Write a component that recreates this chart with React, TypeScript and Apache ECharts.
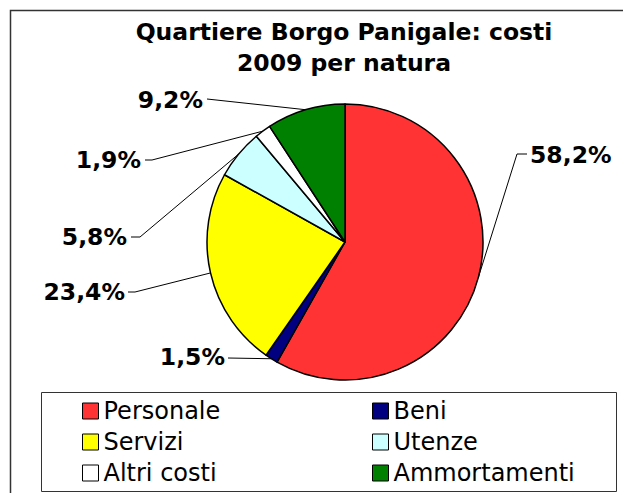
import React, { useEffect, useRef } from "react";
import * as echarts from "echarts";

const TITLE = "Quartiere Borgo Panigale: costi\n2009 per natura";
const categories = ["Personale", "Beni", "Servizi", "Utenze", "Altri costi", "Ammortamenti"];
const values = [58.2, 1.5, 23.4, 5.8, 1.9, 9.2];
const colors = ["#FF3333", "#000080", "#FFFF00", "#CCFFFF", "#FFFFFF", "#008000"];
const legendLeftColumn = ["Personale", "Servizi", "Altri costi"];
const legendRightColumn = ["Beni", "Utenze", "Ammortamenti"];

// Layout of the outside labels: label anchor and leader-line bends (layout only)
const labelPlacement: { x: number; y: number; align: string; bends: number[][] }[] = [
  { x: 530, y: 155, align: "left", bends: [[517, 154], [527, 154]] },
  { x: 225, y: 357, align: "right", bends: [[228, 358]] },
  { x: 125, y: 292, align: "right", bends: [[135, 292], [128, 292]] },
  { x: 127, y: 237, align: "right", bends: [[140, 237], [131, 237]] },
  { x: 141, y: 160, align: "right", bends: [[152, 160], [145, 160]] },
  { x: 203, y: 100, align: "right", bends: [[207, 99]] },
];

const FONT = "'DejaVu Sans', Verdana, sans-serif";

export default function App() {
  const ref = useRef<HTMLDivElement>(null);
  useEffect(() => {
    document.body.style.margin = "0";
    if (!ref.current) return;
    const chart = echarts.init(ref.current, null, { renderer: "svg" });
    const cx = 345, cy = 242, r = 138;
    const legendCommon = {
      orient: "vertical",
      top: 399,
      padding: 0,
      itemWidth: 16,
      itemHeight: 16,
      itemGap: 7,
      icon: "rect",
      selectedMode: false,
      itemStyle: { borderColor: "#000", borderWidth: 1 },
      textStyle: { fontFamily: FONT, fontSize: 24, color: "#000", lineHeight: 24 },
    };
    chart.setOption({
      animation: false,
      backgroundColor: "#fff",
      title: {
        text: TITLE,
        left: 344,
        top: 16,
        padding: 0,
        textAlign: "center",
        textStyle: {
          fontFamily: FONT,
          fontSize: 23.5,
          fontWeight: "bold",
          color: "#000",
          lineHeight: 31,
        },
      },
      legend: [
        { ...legendCommon, left: 82, data: legendLeftColumn },
        { ...legendCommon, left: 372, data: legendRightColumn },
      ],
      graphic: [
        {
          type: "rect",
          shape: { x: 10.5, y: 10.5, width: 700, height: 600 },
          style: { fill: "none", stroke: "#333", lineWidth: 1.5 },
          silent: true,
        },
        {
          type: "rect",
          shape: { x: 41.5, y: 392.5, width: 575, height: 99 },
          style: { fill: "none", stroke: "#333", lineWidth: 1 },
          silent: true,
        },
      ],
      series: [
        {
          type: "pie",
          center: [cx, cy],
          radius: r,
          startAngle: 90,
          clockwise: true,
          avoidLabelOverlap: false,
          data: categories.map((name, i) => ({
            name,
            value: values[i],
            itemStyle: { color: colors[i] },
          })),
          itemStyle: { borderColor: "#000", borderWidth: 1.5 },
          label: {
            show: true,
            position: "outside",
            formatter: (p: any) => `${Number(p.value).toFixed(1).replace(".", ",")}%`,
            fontFamily: FONT,
            fontSize: 23.5,
            fontWeight: "bold",
            color: "#000",
          },
          labelLine: {
            show: true,
            length: 20,
            length2: 10,
            lineStyle: { color: "#000", width: 1 },
          },
          labelLayout: (params: any) => {
            const pl = labelPlacement[params.dataIndex];
            if (!pl) return {};
            const start =
              params.labelLinePoints && params.labelLinePoints[0]
                ? params.labelLinePoints[0]
                : [cx, cy];
            return {
              x: pl.x,
              y: pl.y,
              align: pl.align,
              verticalAlign: "middle",
              labelLinePoints: [start, ...pl.bends],
            };
          },
        },
      ],
    });
    return () => chart.dispose();
  }, []);
  return <div ref={ref} style={{ width: 623, height: 493 }} />;
}
